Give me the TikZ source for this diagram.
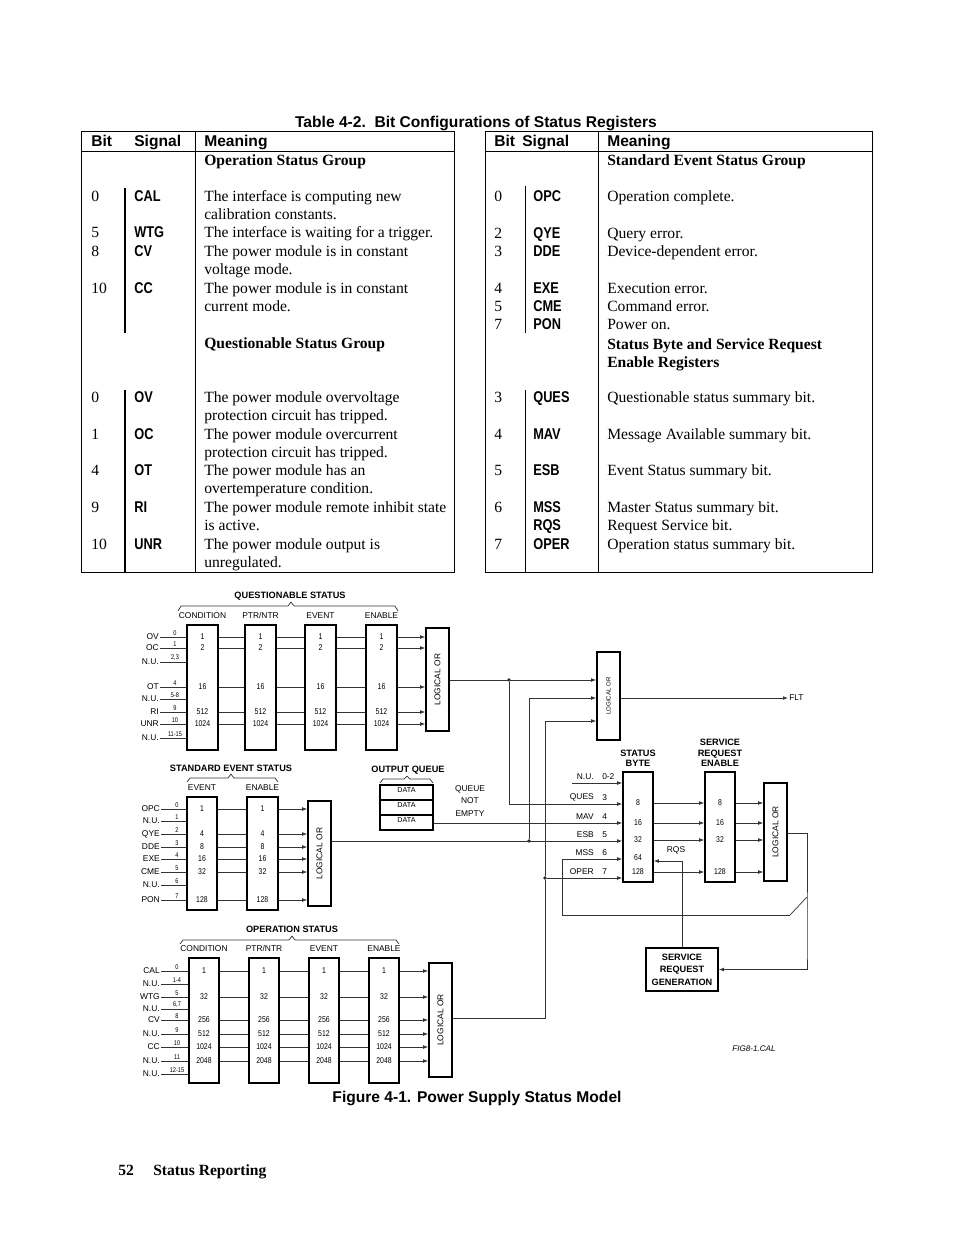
\documentclass[tikz,border=0pt]{standalone}
\usepackage{fontspec}
\setmainfont{Liberation Serif}
\setsansfont{Liberation Sans}
\newfontfamily\narrowsf[FakeStretch=0.82]{Liberation Sans}
\usetikzlibrary{arrows.meta,positioning,fit}
\tikzset{
  reg/.style={draw, line width=1.1pt, inner sep=0pt},
  tag/.style={font=\sffamily\fontsize{5.4}{6}\selectfont, inner sep=0.6pt},
  ttl/.style={font=\sffamily\bfseries\fontsize{5.9}{7}\selectfont, inner sep=0pt, align=center},
  bitno/.style={font=\narrowsf\fontsize{4.4}{5}\selectfont, inner sep=0.4pt, anchor=south},
  val/.style={font=\narrowsf\fontsize{5.4}{6}\selectfont, inner sep=0pt},
  wire/.style={line width=0.45pt, draw=black!80},
  ar/.style={wire, -{Latex[length=3.2pt,width=2.4pt]}},
  jdot/.style={circle, fill=black!85, inner sep=0pt, minimum size=2.5pt},
  brace/.style={line width=0.45pt, draw=black!80, line join=round},
  cell/.style={font=\fontsize{10}{11.5}\selectfont, anchor=base west, inner sep=0pt},
  cellhd/.style={cell, font=\bfseries\fontsize{10}{11.5}\selectfont},
  sigcell/.style={cell, font=\narrowsf\bfseries\fontsize{10}{11.5}\selectfont},
  colhd/.style={cell, font=\sffamily\bfseries\fontsize{10}{11.5}\selectfont},
  tline/.style={line width=0.6pt},
}
\begin{document}
\begin{tikzpicture}[x=0.6415pt, y=-0.6415pt]
\useasboundingbox[fill=white] (0,0) rectangle (954,1235);

% ---- table 4-2
\node[colhd, anchor=base] (tabttl) at (476,127) {Table 4-2.\ \ Bit Configurations of Status Registers};
\draw[tline] (81,131) rectangle (454,572);
\draw[tline] (81,151) -- (454,151);
\draw[tline] (195,131) -- (195,572);
\draw[line width=1.3pt] (125,188) -- (125,333) (125,390) -- (125,572);
\draw[tline] (485,131) rectangle (872,572);
\draw[tline] (485,151) -- (872,151);
\draw[tline] (598,131) -- (598,572);
\draw[tline] (525,186) -- (525,333) (525,390) -- (525,572);
\foreach \x/\t [count=\i] in {91/Bit, 134/Signal, 204/Meaning, 494/Bit, 522/Signal, 607/Meaning}
  \node[colhd] (hd-\i) at (\x,146) {\t};

\node[cellhd] (lg-1) at (204,165) {Operation Status Group};
\node[cellhd] (lg-2) at (204,348) {Questionable Status Group};
\foreach \y/\b/\s in {201/0/CAL, 237/5/WTG, 256/8/CV, 293/10/CC,
                      402/0/OV, 439/1/OC, 475/4/OT, 512/9/RI, 549/10/UNR} {
  \node[cell] (lb-\y) at (91,\y) {\b};
  \node[sigcell] (ls-\y) at (134,\y) {\s};
}
\foreach \y/\t in {201/The interface is computing new, 219/calibration constants.,
    237/The interface is waiting for a trigger., 256/The power module is in constant,
    274/voltage mode., 293/The power module is in constant, 311/current mode.,
    402/The power module overvoltage, 420/protection circuit has tripped.,
    439/The power module overcurrent, 457/protection circuit has tripped.,
    475/The power module has an, 493/overtemperature condition.,
    512/The power module remote inhibit state, 530/is active.,
    549/The power module output is, 567/unregulated.}
  \node[cell] (lm-\y) at (204,\y) {\t};

\node[cellhd] (rg-1) at (607,165) {Standard Event Status Group};
\node[cellhd, align=left, anchor=north west] (rg-2) at (607,338) {Status Byte and Service Request\\Enable Registers};
\foreach \y/\b/\s in {201/0/OPC, 238/2/QYE, 256/3/DDE, 293/4/EXE, 311/5/CME, 329/7/PON,
                      402/3/QUES, 439/4/MAV, 475/5/ESB, 512/6/MSS, 530//RQS, 549/7/OPER} {
  \node[cell] (rb-\y) at (494,\y) {\b};
  \node[sigcell] (rs-\y) at (533,\y) {\s};
}
\foreach \y/\t in {201/Operation complete., 238/Query error., 256/Device-dependent error.,
    293/Execution error., 311/Command error., 329/Power on.,
    402/Questionable status summary bit., 439/Message Available summary bit.,
    475/Event Status summary bit., 512/Master Status summary bit.,
    530/Request Service bit., 549/Operation status summary bit.}
  \node[cell] (rm-\y) at (607,\y) {\t};

% ---- questionable status
\node[ttl] (qttl) at (290,596) {QUESTIONABLE STATUS};
\draw[brace] (178,611) -- (181,606) -- (288,606) -- (291,602) -- (294,606) -- (395,606) -- (398,611);
\foreach \nm/\x in {qcond/187, qptr/245, qevt/305, qena/366}
  \node[reg, fit={(\x,625) (\x+31,750)}] (\nm) {};
\node[reg, fit={(426,628) (449,731)}] (qor) {};
\node[tag, rotate=90] (qor-t) at (qor.center) {LOGICAL OR};
\node[tag, above=3pt of qcond] (qcond-t) {CONDITION};
\node[tag, above=3pt of qptr] (qptr-t) {PTR/NTR};
\node[tag, above=3pt of qevt] (qevt-t) {EVENT};
\node[tag, above=3pt of qena] (qena-t) {ENABLE};
\foreach \s/\b/\y in {OV/0/637, OC/1/648, N.U./{2,3}/662, OT/4/687, N.U./5-8/699,
                      RI/9/712, UNR/10/724, N.U./11-15/738} {
  \node[tag, anchor=east] (qin-\y) at (160,\y) {\s};
  \draw[wire] (qin-\y.east) -- (qcond.west |- qin-\y.east);
  \node[bitno] (qbit-\y) at (175,\y-1) {\b};
}
\foreach \v/\y in {1/637, 2/648, 16/687, 512/712, 1024/724} {
  \foreach \nm in {qcond, qptr, qevt, qena}
    \node[val] (\nm-\v) at (\nm.center |- 0,\y) {\v};
  \draw[wire] (qcond.east |- 0,\y) -- (qptr.west |- 0,\y);
  \draw[wire] (qptr.east |- 0,\y) -- (qevt.west |- 0,\y);
  \draw[wire] (qevt.east |- 0,\y) -- (qena.west |- 0,\y);
  \draw[ar] (qena.east |- 0,\y) -- (qor.west |- 0,\y);
}

% ---- standard event status
\node[ttl] (sttl) at (231,768) {STANDARD EVENT STATUS};
\draw[brace] (187,782) -- (190,778) -- (228,778) -- (231,774) -- (234,778) -- (275,778) -- (278,782);
\node[reg, fit={(187,797) (217,910)}] (sevt) {};
\node[reg, fit={(247,797) (278,910)}] (sena) {};
\node[reg, fit={(308,801) (331,906)}] (sor) {};
\node[tag, rotate=90] (sor-t) at (sor.center) {LOGICAL OR};
\node[tag, above=3pt of sevt] (sevt-t) {EVENT};
\node[tag, above=3pt of sena] (sena-t) {ENABLE};
\foreach \s/\b/\y in {OPC/0/809, N.U./1/821, QYE/2/834, DDE/3/847, EXE/4/859,
                      CME/5/872, N.U./6/885, PON/7/900} {
  \node[tag, anchor=east] (sin-\y) at (161,\y) {\s};
  \draw[wire] (sin-\y.east) -- (sevt.west |- sin-\y.east);
  \node[bitno] (sbit-\y) at (177,\y-1) {\b};
}
\foreach \v/\y in {1/809, 4/834, 8/847, 16/859, 32/872, 128/900} {
  \node[val] (sevt-\v) at (sevt.center |- 0,\y) {\v};
  \node[val] (sena-\v) at (sena.center |- 0,\y) {\v};
  \draw[wire] (sevt.east |- 0,\y) -- (sena.west |- 0,\y);
  \draw[ar] (sena.east |- 0,\y) -- (sor.west |- 0,\y);
}

% ---- output queue
\node[ttl] (oqttl) at (408,770) {OUTPUT QUEUE};
\draw[brace] (380,783) -- (383,779) -- (404,779) -- (407,776) -- (410,779) -- (430,779) -- (433,783);
\foreach \i/\y in {1/785, 2/800, 3/815}
  \node[reg, fit={(380,\y) (433,\y+15)}, font=\sffamily\fontsize{4.6}{5}\selectfont] (oq\i) {DATA};
\node[tag, align=center, font=\sffamily\fontsize{5.4}{8}\selectfont] (qne) at (470,801) {QUEUE\\NOT\\EMPTY};

% ---- operation status
\node[ttl] (ottl) at (292,929) {OPERATION STATUS};
\draw[brace] (180,944) -- (183,940) -- (289,940) -- (292,936) -- (295,940) -- (396,940) -- (399,944);
\foreach \nm/\x in {ocond/189, optr/249, oevt/309, oena/369}
  \node[reg, fit={(\x,958) (\x+30,1083)}] (\nm) {};
\node[reg, fit={(429,963) (452,1077)}] (oor) {};
\node[tag, rotate=90] (oor-t) at (oor.center) {LOGICAL OR};
\node[tag, above=3pt of ocond] (ocond-t) {CONDITION};
\node[tag, above=3pt of optr] (optr-t) {PTR/NTR};
\node[tag, above=3pt of oevt] (oevt-t) {EVENT};
\node[tag, above=3pt of oena] (oena-t) {ENABLE};
\foreach \s/\b/\y in {CAL/0/971, N.U./1-4/984, WTG/5/997, N.U./{6,7}/1009, CV/8/1020,
                      N.U./9/1034, CC/10/1047, N.U./11/1061, N.U./12-15/1074} {
  \node[tag, anchor=east] (oin-\y) at (161,\y) {\s};
  \draw[wire] (oin-\y.east) -- (ocond.west |- oin-\y.east);
  \node[bitno] (obit-\y) at (177,\y-1) {\b};
}
\foreach \v/\y in {1/971, 32/997, 256/1020, 512/1034, 1024/1047, 2048/1061} {
  \foreach \nm in {ocond, optr, oevt, oena}
    \node[val] (\nm-\v) at (\nm.center |- 0,\y) {\v};
  \draw[wire] (ocond.east |- 0,\y) -- (optr.west |- 0,\y);
  \draw[wire] (optr.east |- 0,\y) -- (oevt.west |- 0,\y);
  \draw[wire] (oevt.east |- 0,\y) -- (oena.west |- 0,\y);
  \draw[ar] (oena.east |- 0,\y) -- (oor.west |- 0,\y);
}

% ---- status byte, service request
\node[reg, fit={(597,652) (620,740)}] (fltor) {};
\node[tag, rotate=90, font=\sffamily\fontsize{3.9}{5}\selectfont] (fltor-t) at (fltor.center) {LOGICAL OR};
\node[tag, anchor=west] (flt) at (788,698) {FLT};
\node[reg, fit={(623,772) (653,882)}] (stb) {};
\node[ttl, above=2.5pt of stb] (stb-t) {STATUS\\BYTE};
\node[reg, fit={(705,772) (735,882)}] (sre) {};
\node[ttl, above=2.5pt of sre] (sre-t) {SERVICE\\REQUEST\\ENABLE};
\node[reg, fit={(764,783) (787,881)}] (sror) {};
\node[tag, rotate=90] (sror-t) at (sror.center) {LOGICAL OR};
\node[reg, ttl, font=\sffamily\bfseries\fontsize{5.9}{8}\selectfont,
      minimum width=46.2pt, minimum height=27.6pt] (srg) at (682,969.5) {SERVICE\\REQUEST\\GENERATION};
\foreach \s/\b/\y in {N.U./0-2/783, QUES/3/804, MAV/4/823, ESB/5/841, MSS/6/859, OPER/7/878} {
  \node[tag, anchor=south east] (bin-\y) at (595,\y-2) {\s};
  \node[tag, anchor=south west] (bbit-\y) at (601,\y-2) {\b};
}
\foreach \v/\y in {8/803, 16/823, 32/840, 64/858, 128/872}
  \node[val] (stb-\v) at (stb.center |- 0,\y) {\v};
\foreach \v/\y in {8/803, 16/823, 32/840, 128/872} {
  \node[val] (sre-\v) at (sre.center |- 0,\y) {\v};
  \draw[ar] (stb.east |- 0,\y) -- (sre.west |- 0,\y);
  \draw[ar] (sre.east |- 0,\y) -- (sror.west |- 0,\y);
}
\node[tag] (rqs) at (676,850) {RQS};
\node[jdot] (j1) at (509,680) {};
\node[jdot] (j2) at (529,841) {};
\node[jdot] (j3) at (545,878) {};
\coordinate (nu02) at (572,783);
\coordinate (swa) at (790,915);
\coordinate (swb) at (807,897);

\draw[ar] (qor.east |- 0,680) -- (fltor.west |- 0,680);
\draw[ar] (j2) |- (fltor.west |- 0,698);
\draw[ar] (j3) |- (fltor.west |- 0,721);
\draw[wire] (oor.east |- 0,1018) -| (j3);
\draw[ar] (fltor.east |- flt) -- (flt.west);
\draw[ar] (nu02) -- (stb.west |- nu02);
\draw[ar] (j1) |- (stb.west |- 0,804);
\draw[ar] (oq3.east |- 0,823) -- (stb.west |- 0,823);
\draw[ar] (sor.east |- 0,841) -- (stb.west |- 0,841);
\draw[ar] (swa) -- (562,915) |- (stb.west |- 0,859);
\draw[wire] (swa) -- (swb);
\draw[ar] (j3) -- (stb.west |- j3);
\draw[ar] (srg.north) |- (stb.east |- 0,861);
\draw[ar] (sror.east |- 0,833) -| (807,950) |- (srg.east);

\node[font=\sffamily\itshape\fontsize{5.2}{6}\selectfont] (figid) at (754,1049) {FIG8-1.CAL};

% ---- caption and footer
\node[colhd, anchor=base] (cap) at (477,1102) {Figure 4-1. Power Supply Status Model};
\node[cellhd] (pgno) at (118,1175) {52};
\node[cellhd] (pgttl) at (153,1175) {Status Reporting};
\end{tikzpicture}
\end{document}
